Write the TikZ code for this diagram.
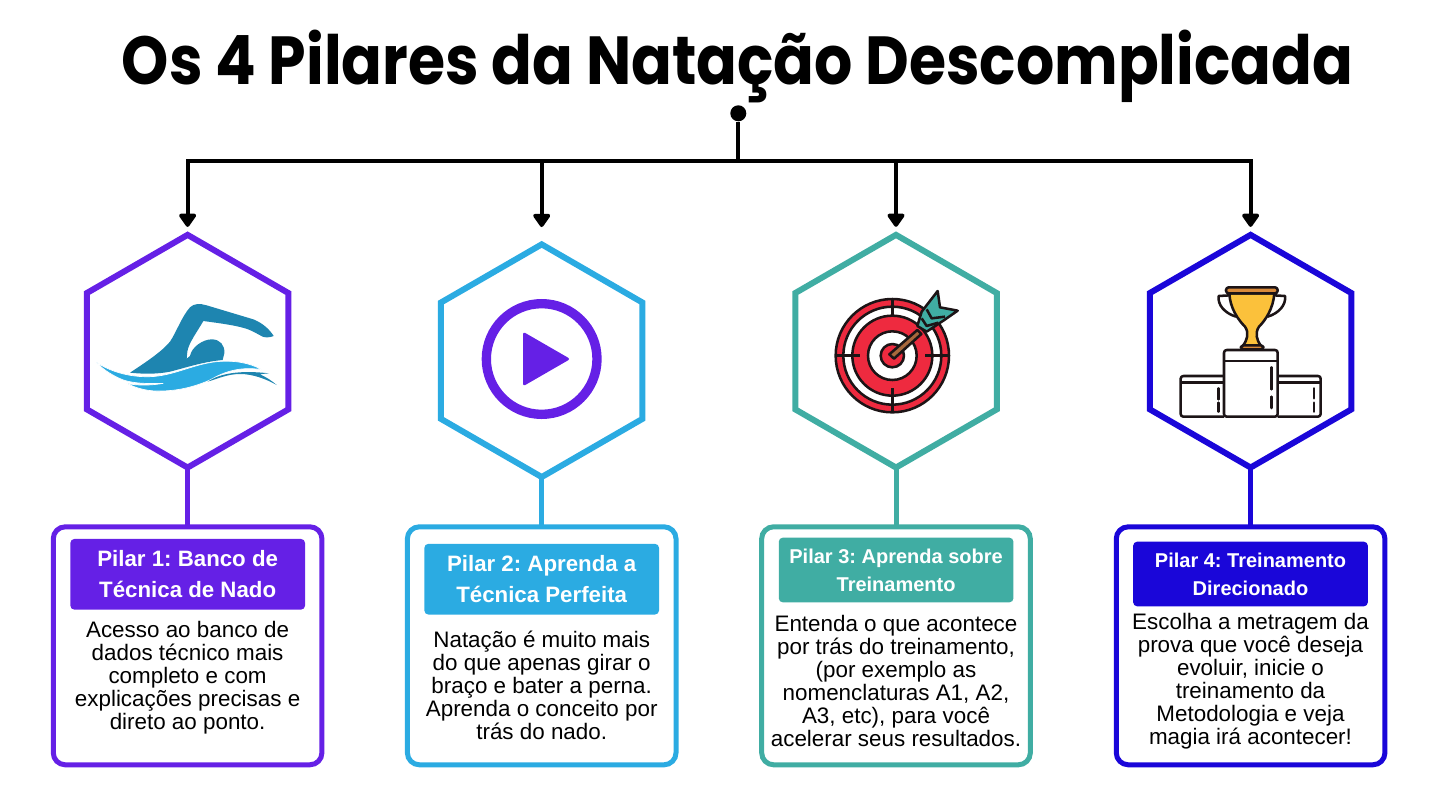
\documentclass[tikz,border=0pt]{standalone}
\usepackage{fontspec}
\setmainfont{Liberation Sans}
\newfontfamily\titlefont{Poppins}
\usetikzlibrary{shapes.geometric,arrows.meta}
\definecolor{pilarOne}{HTML}{6520E6}
\definecolor{pilarTwo}{HTML}{2BABE2}
\definecolor{pilarThree}{HTML}{40ADA3}
\definecolor{pilarFour}{HTML}{1A06D9}
\definecolor{swimDark}{HTML}{1E85B0}
\definecolor{targetRed}{HTML}{EE2A3F}
\definecolor{cupGold}{HTML}{FBC13B}
\definecolor{cupRim}{HTML}{D98A3A}
\definecolor{shaftBrown}{HTML}{A8683C}
\definecolor{iconInk}{HTML}{1C1416}
\begin{document}
\frenchspacing
\begin{tikzpicture}
[x=.75pt,y=-.75pt,
  busLine/.style={line width=3pt,black},
  busArrow/.style={busLine,-{Triangle[width=14.5pt,length=11pt,round]}},
  rootDot/.style={shape=circle,fill=black,inner sep=0pt,minimum size=12pt},
  hexDecorate/.style={shape=regular polygon,regular polygon sides=6,shape border rotate=30,
    inner sep=0pt,outer sep=0pt,minimum size=174.5pt,line width=4.5pt,draw},
  boxDecorate/.style={shape=rectangle,rounded corners=9pt,outer sep=0pt,line width=3.75pt,
    minimum width=201.5pt,minimum height=178.5pt,draw},
  headDecorate/.style={shape=rectangle,rounded corners=3pt,inner sep=0pt,text=white,
    minimum width=176pt,align=center},
  bodyText/.style={align=center,inner sep=0pt,font=\fontsize{16.8}{17.25}\selectfont},
  iconLine/.style={draw=iconInk,line width=1.9pt,line join=round}]
\useasboundingbox (0,0) rectangle (1440,810);
%% title and root of the tree
\node (title) at (737.5,66.5) [xscale=.884,transform shape,font=\titlefont\bfseries\fontsize{51}{60}\selectfont] {Os 4 Pilares da Natação Descomplicada};
\node (root) at (738.3,113.3) [rootDot] {};
\coordinate (busMid) at (738.3,161);
\draw[busLine] (root) -- (busMid);
%% hexagons, boxes and connectors
\foreach \nodename/\x/\hexy/\gap/\col in {
  1/187.6/351.2/6pt/pilarOne, 2/541.7/360.7/13pt/pilarTwo,
  3/896/351.2/6pt/pilarThree, 4/1250.6/351.2/6pt/pilarFour}
{
  \node (hex\nodename) at (\x,\hexy) [hexDecorate,draw=\col] {};
  \node (box\nodename) at (\x,645.8) [boxDecorate,draw=\col] {};
  \draw[line width=3.75pt,\col] (hex\nodename.south) -- (box\nodename.north);
  \draw[busArrow,shorten >=\gap] (busMid) -| (hex\nodename.north);
}
%% headers
\foreach \nodename/\x/\y/\hgt/\size/\skipline/\col/\head in {
  1/187.7/574.3/53/16.7/23/pilarOne/{Pilar 1: Banco de\\Técnica de Nado},
  2/541.7/579.2/53/16.7/23/pilarTwo/{Pilar 2: Aprenda a\\Técnica Perfeita},
  3/896.1/570/48.5/15/21/pilarThree/{Pilar 3: Aprenda sobre\\Treinamento},
  4/1250.5/574/48.5/15/21/pilarFour/{Pilar 4: Treinamento\\Direcionado}}
{
  \node (head\nodename) at (\x,\y) [headDecorate,fill=\col,minimum height=\hgt pt,
    font=\bfseries\fontsize{\size}{\skipline}\selectfont] {\head};
}
%% body texts
\node (text1) at (187.6,678) [bodyText] {Acesso ao banco de\\dados técnico mais\\completo e com\\explicações precisas e\\direto ao ponto.};
\node (text2) at (541.7,685) [bodyText] {Natação é muito mais\\do que apenas girar o\\braço e bater a perna.\\Aprenda o conceito por\\trás do nado.};
\node (text3) at (896,681) [bodyText] {Entenda o que acontece\\por trás do treinamento,\\(por exemplo as\\nomenclaturas A1, A2,\\A3, etc), para você\\acelerar seus resultados.};
\node (text4) at (1250.5,681) [bodyText] {Escolha a metragem da\\prova que você deseja\\evoluir, inicie o\\treinamento da\\Metodologia e veja\\magia irá acontecer!};
%% swimmer
\begin{scope}[shift={(70,220)},x=.25pt,y=-.25pt]
\fill[swimDark] (180,458) .. controls (230,425) and (275,395) .. (300,365)
  .. controls (320,335) and (335,290) .. (360,262) .. controls (372,250) and (390,250) .. (410,256)
  -- (550,298) .. controls (580,310) and (600,330) .. (611,348) .. controls (600,353) and (585,353) .. (578,350)
  -- (550,335) .. controls (520,318) and (450,310) .. (400,303) .. controls (385,330) and (355,370) .. (352,395)
  -- (350,416) -- (360,408) .. controls (365,380) and (400,358) .. (425,358)
  .. controls (450,358) and (465,375) .. (463,400) -- (458,420)
  .. controls (400,425) and (340,445) .. (300,455) .. controls (260,463) and (215,462) .. (180,458) -- cycle;
\filldraw[fill=pilarTwo,draw=white,line width=.5pt] (78,426) .. controls (120,455) and (180,472) .. (240,470)
  .. controls (310,468) and (370,432) .. (440,425) .. controls (490,420) and (540,428) .. (575,449)
  .. controls (520,440) and (470,450) .. (420,480) .. controls (370,502) and (320,513) .. (270,513)
  .. controls (240,514) and (205,508) .. (170,490) .. controls (200,497) and (240,497) .. (280,490)
  .. controls (230,492) and (190,490) .. (160,480) .. controls (130,468) and (100,450) .. (78,426) -- cycle;
\fill[swimDark] (413,485) .. controls (450,460) and (510,450) .. (597,460) .. controls (585,461) and (575,462) .. (570,463)
  .. controls (590,472) and (605,482) .. (620,495) .. controls (590,478) and (550,462) .. (510,462)
  .. controls (475,462) and (445,475) .. (413,485) -- cycle;
\end{scope}
%% play button
\begin{scope}[shift={(425,210)},x=.25pt,y=-.25pt]
\draw[line width=7pt,pilarOne] (350,447) circle (166);
\filldraw[fill=pilarOne,draw=pilarOne,line width=2pt,line join=round] (298,372) -- (428,447) -- (298,522) -- cycle;
\end{scope}
%% target
\begin{scope}[shift={(780,220)},x=.25pt,y=-.25pt]
\filldraw[iconLine,fill=targetRed] (337,407) circle (170);
\filldraw[iconLine,fill=white] (337,407) circle (147);
\filldraw[iconLine,fill=targetRed] (337,407) circle (120);
\filldraw[iconLine,fill=white] (337,407) circle (73);
\filldraw[iconLine,fill=targetRed] (337,407) circle (35);
\draw[iconLine] (337,237) -- (337,285) (337,505) -- (337,577) (167,407) -- (240,407) (435,407) -- (507,407);
\filldraw[iconLine,fill=shaftBrown] (328,403) -- (412,330) -- (424,342) -- (342,416) -- cycle;
\filldraw[iconLine,fill=pilarThree] (412,318) -- (425,275) -- (473,213) -- (480,262) -- (533,272) -- (490,302) -- (440,335) -- cycle;
\draw[iconLine] (440,268) -- (455,295) -- (495,290) (425,295) -- (440,318) -- (475,308);
\end{scope}
%% trophy and podium
\begin{scope}[shift={(1130,220)},x=.25pt,y=-.25pt]
\draw[iconLine] (300,226) -- (266,228) .. controls (262,255) and (285,280) .. (318,290);
\draw[iconLine] (431,226) -- (465,228) .. controls (469,255) and (446,280) .. (413,290);
\filldraw[iconLine,fill=cupGold] (298,220) .. controls (300,265) and (325,300) .. (345,320) .. controls (358,340) and (352,360) .. (338,378)
  -- (393,378) .. controls (380,360) and (374,340) .. (387,320) .. controls (407,300) and (430,265) .. (433,220) -- cycle;
\filldraw[iconLine,fill=cupRim,rounded corners=2pt] (288,202) rectangle (443,220);
\filldraw[iconLine,fill=cupRim,rounded corners=2pt] (333,376) rectangle (400,388);
\draw[iconLine,rounded corners=2pt] (282,390) rectangle (443,590);
\draw[iconLine,rounded corners=2pt] (282,468) -- (152,468) -- (152,590) -- (282,590);
\draw[iconLine,rounded corners=2pt] (443,468) -- (572,468) -- (572,590) -- (443,590);
\draw[iconLine] (282,423) -- (443,423) (152,487) -- (282,487) (443,487) -- (572,487);
\draw[iconLine,line cap=round] (425,442) -- (425,508) (425,530) -- (425,564) (265,505) -- (265,538) (265,548) -- (265,575) (552,505) -- (552,535) (552,548) -- (552,575);
\end{scope}
\end{tikzpicture}
\end{document}
